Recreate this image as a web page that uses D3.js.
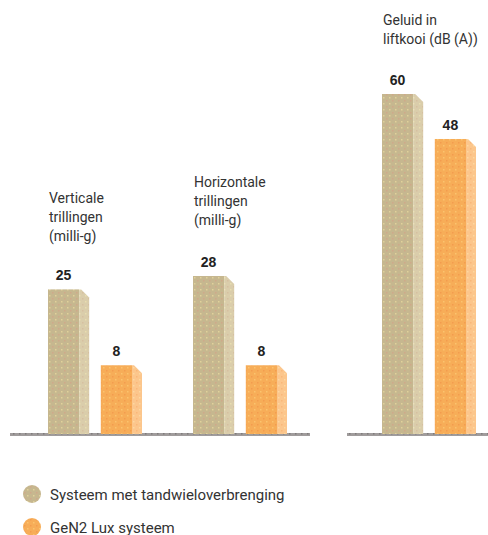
<!DOCTYPE html>
<html lang="nl">
<head>
<meta charset="UTF-8" />
<title>Trillingen en geluid</title>
<script src="https://cdn.jsdelivr.net/npm/d3@7/dist/d3.min.js"></script>
<style>
  html, body { margin: 0; padding: 0; background: #fff; }
  svg { display: block; }
  text { font-family: Roboto, "Liberation Sans Narrow", sans-serif; }
  text.value { font-family: "Liberation Sans Narrow", "Arial Narrow", sans-serif; }
</style>
</head>
<body>
<script>
// --- data ---
const series = ["Systeem met tandwieloverbrenging", "GeN2 Lux systeem"];
const vibrationGroups = ["Verticale", "Horizontale"];
const vibrationTitles = [
  ["Verticale", "trillingen", "(milli-g)"],
  ["Horizontale", "trillingen", "(milli-g)"]
];
const vibrationValues = [[25, 8], [28, 8]];
const noiseGroups = ["Geluid"];
const noiseTitles = [["Geluid in", "liftkooi (dB (A))"]];
const noiseValues = [[60, 48]];

const width = 488, height = 535;
const baseY = 434;

const svg = d3.select("body").append("svg")
  .attr("width", width)
  .attr("height", height);

// textures for the bars
const defs = svg.append("defs");
function dotPattern(id, base, dot1, dot2) {
  const p = defs.append("pattern")
    .attr("id", id)
    .attr("patternUnits", "userSpaceOnUse")
    .attr("width", 6).attr("height", 6);
  p.append("rect").attr("width", 6).attr("height", 6).attr("fill", base);
  p.append("rect").attr("x", 1).attr("y", 1).attr("width", 1.5).attr("height", 1.5).attr("fill", dot1);
  p.append("rect").attr("x", 4).attr("y", 4).attr("width", 1.5).attr("height", 1.5).attr("fill", dot2);
}
dotPattern("beige-front", "#c6b78f", "#e0d29a", "#d0a88a");
dotPattern("beige-side", "#dacdab", "#e8deb0", "#d6bfa0");
dotPattern("orange-front", "#f7ad58", "#fbc46e", "#f39c4e");
dotPattern("orange-side", "#fcc68c", "#fdd9a0", "#f9b779");
dotPattern("axis-pat", "#a09c9c", "#7f7b7b", "#bdbaba");

const fills = [["url(#beige-front)", "url(#beige-side)"], ["url(#orange-front)", "url(#orange-side)"]];

// scales
const xVib = d3.scaleBand().domain(vibrationGroups).range([5, 295]);
const xNoise = d3.scaleBand().domain(noiseGroups).range([339, 484]);
const xSeries = d3.scaleBand().domain(series).range([0, 94]).paddingInner(0.22);
const yVib = d3.scaleLinear().domain([-7.4, 28]).range([baseY, 276]);
const yNoise = d3.scaleLinear().domain([-30.7, 60]).range([baseY, 94]);

const sideW = 10, bevel = 8;

function drawPanel(groups, titles, titleY, values, x, y, axisFrom, axisTo) {
  // baseline
  svg.append("rect")
    .attr("x", axisFrom).attr("y", baseY - 1)
    .attr("width", axisTo - axisFrom).attr("height", 3)
    .attr("fill", "url(#axis-pat)");

  groups.forEach((g, gi) => {
    const gx = x(g) + 43;
    const gEl = svg.append("g").attr("transform", `translate(${gx},0)`);

    // title
    const t = gEl.append("text")
      .attr("fill", "#333")
      .attr("font-size", 14);
    titles[gi].forEach((line, li) => {
      t.append("tspan").attr("x", 1).attr("y", titleY[gi] + li * 19).text(line);
    });

    const bars = gEl.selectAll("g.bar")
      .data(values[gi].map((v, si) => ({ v, s: series[si], si })))
      .join("g").attr("class", "bar");

    const frontW = xSeries.bandwidth() - sideW;

    bars.append("rect")
      .attr("x", d => xSeries(d.s))
      .attr("y", d => y(d.v))
      .attr("width", frontW)
      .attr("height", d => baseY - y(d.v))
      .attr("fill", d => fills[d.si][0]);

    bars.append("path")
      .attr("d", d => {
        const x0 = xSeries(d.s) + frontW, top = y(d.v);
        return `M${x0},${top} L${x0 + 2},${top} L${x0 + sideW},${top + bevel} L${x0 + sideW},${baseY} L${x0},${baseY} Z`;
      })
      .attr("fill", d => fills[d.si][1]);

    bars.append("text")
      .attr("class", "value")
      .attr("x", d => xSeries(d.s) + frontW / 2)
      .attr("y", d => y(d.v) - 9)
      .attr("text-anchor", "middle")
      .attr("font-size", 14)
      .attr("font-weight", "bold")
      .attr("fill", "#222")
      .text(d => d.v);
  });
}

drawPanel(vibrationGroups, vibrationTitles, [203, 187], vibrationValues, xVib, yVib, 10, 310);
drawPanel(noiseGroups, noiseTitles, [25], noiseValues, xNoise, yNoise, 347, 488);

// legend
const legend = svg.append("g").attr("transform", "translate(32,494)");
const li = legend.selectAll("g").data(series).join("g")
  .attr("transform", (d, i) => `translate(0,${i * 33})`);
li.append("circle").attr("r", 9).attr("fill", (d, i) => fills[i][0]);
li.append("text")
  .attr("x", 18).attr("y", 6)
  .attr("font-size", 15)
  .attr("fill", "#333")
  .text(d => d);
</script>
</body>
</html>
